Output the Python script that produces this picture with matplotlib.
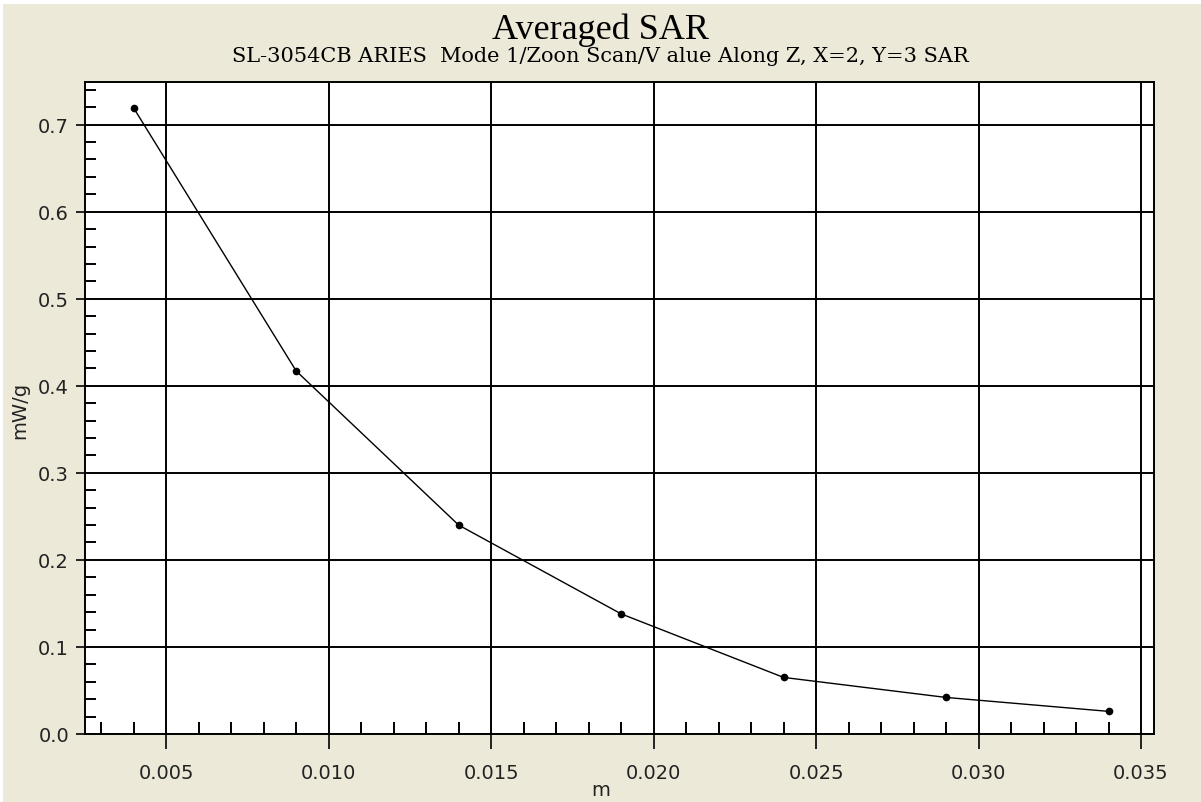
import matplotlib
matplotlib.use("Agg")
import matplotlib.pyplot as plt
from matplotlib.ticker import MultipleLocator
from matplotlib.patches import Rectangle

# data
depth = [0.004, 0.009, 0.014, 0.019, 0.024, 0.029, 0.034]
sar = [0.719, 0.417, 0.240, 0.138, 0.065, 0.042, 0.026]

bg = '#ECE9D8'

fig = plt.figure(figsize=(12.01, 8.03), dpi=100, facecolor=bg)
# thin white frame at top/left as in the screenshot
fig.patches.append(Rectangle((0, 1 - 5 / 803), 1, 5 / 803, transform=fig.transFigure,
                             facecolor='white', edgecolor='none', zorder=0))
fig.patches.append(Rectangle((0, 0), 3 / 1201, 1, transform=fig.transFigure,
                             facecolor='white', edgecolor='none', zorder=0))

ax = fig.add_axes([85 / 1201, 68 / 803, (1154 - 85) / 1201, (735 - 83) / 803])
ax.set_facecolor('white')

ax.plot(depth, sar, color='black', linewidth=1.0, marker='o', markersize=4.5)

ax.set_xlim(0.0025, 0.0354)
ax.set_ylim(0.0, 0.749)

ax.xaxis.set_major_locator(MultipleLocator(0.005))
ax.xaxis.set_minor_locator(MultipleLocator(0.001))
ax.yaxis.set_major_locator(MultipleLocator(0.1))
ax.yaxis.set_minor_locator(MultipleLocator(0.02))
ax.xaxis.set_major_formatter(plt.FormatStrFormatter('%.3f'))
ax.yaxis.set_major_formatter(plt.FormatStrFormatter('%.1f'))

ax.grid(True, which='major', color='black', linewidth=1.4)
ax.set_axisbelow(True)
for s in ax.spines.values():
    s.set_linewidth(1.4)

ax.tick_params(axis='x', which='major', direction='out', length=11, width=1.4,
               labelsize=14, pad=10, colors='#222222')
ax.tick_params(axis='x', which='minor', direction='in', length=9, width=1.4)
ax.tick_params(axis='y', which='major', direction='out', length=6.5, width=1.4,
               labelsize=14, pad=5, colors='#222222')
ax.tick_params(axis='y', which='minor', direction='in', length=8, width=1.4)

fig.text(0.5, 1 - 30 / 803, 'Averaged SAR', ha='center', va='center',
         fontsize=26, family='Liberation Serif')
fig.text(0.5, 1 - 57 / 803, 'SL-3054CB ARIES  Mode 1/Zoon Scan/V alue Along Z, X=2, Y=3 SAR',
         ha='center', va='center', fontsize=15, family='DejaVu Serif')
fig.text(0.5, 1 - 791 / 803, 'm', ha='center', va='center', fontsize=14, color='#222222')
fig.text(20 / 1201, 1 - 410 / 803, 'mW/g', ha='center', va='center', rotation=90,
         fontsize=14, color='#222222')

fig.savefig('out.png', dpi=100, facecolor=bg)
